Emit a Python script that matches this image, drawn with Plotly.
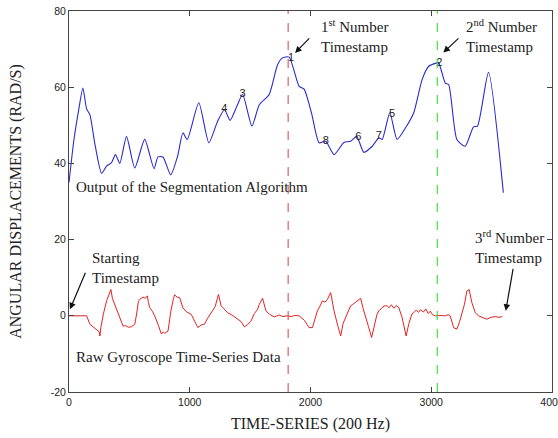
import plotly.graph_objects as go

# ---------------- data ----------------
seg_x = [0, 40, 80, 115, 146, 173, 215, 270, 311, 352,
         385, 421, 476, 545, 627, 704, 737, 778, 842, 900,
         943, 979, 1075, 1158, 1230, 1287, 1334, 1390, 1438, 1515,
         1576, 1658, 1727, 1768, 1823, 1906, 1947, 2010, 2071, 2126,
         2195, 2277, 2332, 2382, 2442, 2511, 2566, 2594, 2657, 2717,
         2790, 2855, 2924, 2979, 3047, 3061, 3116, 3144, 3212, 3281,
         3350, 3383, 3474, 3597]
seg_y = [35, 46, 54, 59.8, 54.3, 52.8, 45, 37.4, 39.3, 40.2,
         42.3, 40, 47.1, 38.8, 46.3, 38.6, 41.7, 41.7, 37.0, 42,
         48.0, 46.3, 55.9, 45.4, 51, 54.1, 51.3, 55, 58.1, 49.8,
         55.4, 58.1, 65.9, 67.7, 67.9, 60.2, 59.5, 53, 45.4, 45.8,
         42.3, 45.5, 45.8, 47.1, 42.9, 44.5, 46.7, 46.3, 53.3, 46.3,
         49.5, 53.3, 62.0, 65.5, 66.4, 66.5, 61.1, 60.7, 46.3, 44.5,
         49.6, 49.8, 63.9, 32.3]

raw_x = [0, 146, 173, 228, 250, 256, 264, 285, 300, 311,
         330, 347, 360, 393, 420, 448, 470, 490, 517, 545,
         560, 575, 586, 600, 613, 630, 649, 658, 668, 690,
         710, 740, 765, 780, 792, 820, 845, 865, 875, 895,
         916, 943, 975, 1012, 1040, 1067, 1095, 1122, 1145, 1163,
         1185, 1210, 1238, 1260, 1285, 1314, 1350, 1397, 1425, 1452,
         1480, 1507, 1535, 1560, 1576, 1603, 1631, 1660, 1700, 1740,
         1770, 1809, 1840, 1870, 1906, 1950, 1988, 2016, 2057, 2080,
         2098, 2120, 2140, 2167, 2195, 2225, 2250, 2270, 2291, 2310,
         2332, 2350, 2370, 2387, 2415, 2435, 2456, 2480, 2506, 2530,
         2550, 2566, 2590, 2610, 2635, 2650, 2670, 2690, 2710, 2731,
         2759, 2792, 2815, 2840, 2855, 2875, 2895, 2910, 2935, 2955,
         2975, 2992, 3010, 3034, 3070, 3116, 3140, 3157, 3185, 3212,
         3235, 3253, 3275, 3295, 3314, 3336, 3365, 3391, 3425, 3460,
         3495, 3529, 3560, 3589]
raw_y = [0, 0, -2.2, -3.5, -4.2, -5.3, -3, 0.5, 2.8, 3.9,
         5.5, 6.9, 4.5, 1.7, -0.5, -2.7, -2.6, -3.0, -2.9, -2.2,
         0.5, 3.8, 4.3, 4.6, 4.9, 4.6, 5.2, 3.5, 2.2, 1.2,
         0, -2.5, -4.8, -4.2, -4.6, -4, 1.5, 4.5, 5.5, 4.9,
         4.8, 2.1, 1.0, 0.4, -1.5, -3.1, -2.4, -2.2, -0.8, 0,
         1.0, 2.4, 5.6, 2.6, 1.8, 0.8, 0.2, -0.9, -1.5, -2.9,
         -2.3, -1.4, 0.6, 1.6, 3, 4.6, 1.3, 0.4, -0.3, 0.2,
         -0.2, 0, -0.2, 0.1, 0, -1.2, -3.1, -3.1, 1.3, 2.6,
         3.9, 3.6, 4.3, 6.1, 1.3, -2.5, -5.3, -2.0, -0.5, 0.8,
         2.6, 3.0, 3.5, 3.9, 4.6, 2.0, 0, -2.8, -5.7, -2.0,
         0.3, 1.3, 1.9, 2.6, 2.6, 2.1, 2.9, 2.0, 2.7, 2.2,
         -0.5, -5.3, -2.0, 0.5, 0.8, 1.5, 0.9, 1.6, 1.0, 1.8,
         0.6, 1.2, 0.3, 0, 0.1, 0, 0.3, 0, -3.1, -3.5,
         -1.5, 0.8, 3.0, 6.5, 6.9, 3.5, 0.8, 0, -0.4, -0.9,
         -0.4, -0.2, -0.4, -0.2]

marker_labels = ["1", "2", "3", "4", "5", "6", "7", "8"]
marker_x = [1840, 3066, 1438, 1287, 2676, 2395, 2566, 2126]
marker_y = [67.6, 66.3, 58.1, 54.1, 52.8, 46.9, 47.0, 45.7]

vline_first = 1815
vline_second = 3050

x_ticks = [0, 1000, 2000, 3000, 4000]
y_ticks = [-20, 0, 20, 40, 60, 80]

SERIF = "Liberation Serif, Times New Roman, serif"
SANS = "Liberation Sans, Arial, sans-serif"

fig = go.Figure()

fig.add_trace(go.Scatter(x=seg_x, y=seg_y, mode="lines",
                         line=dict(color="#2a2ad0", width=1.1, shape="spline", smoothing=0.6),
                         hoverinfo="skip", showlegend=False))
fig.add_trace(go.Scatter(x=raw_x, y=raw_y, mode="lines",
                         line=dict(color="#e52222", width=1.0),
                         hoverinfo="skip", showlegend=False))
fig.add_trace(go.Scatter(x=marker_x, y=marker_y, mode="text", text=marker_labels,
                         textfont=dict(family=SANS, size=11, color="#222"),
                         hoverinfo="skip", showlegend=False))

fig.add_vline(x=vline_first, line=dict(color="#e06060", width=1.2, dash="dash"))
fig.add_vline(x=vline_second, line=dict(color="#44e044", width=1.2, dash="dash"))

txt = dict(family=SERIF, size=15, color="#222")
annos = [
    dict(x=2068, y=73.4, text="1<sup>st</sup> Number<br>Timestamp"),
    dict(x=3272, y=73.4, text="2<sup>nd</sup> Number<br>Timestamp"),
    dict(x=176, y=12.6, text="Starting<br>Timestamp"),
    dict(x=3343, y=18.1, text="3<sup>rd</sup> Number<br>Timestamp"),
    dict(x=42, y=33.8, text="Output of the Segmentation Algorithm"),
    dict(x=42, y=-10.8, text="Raw Gyroscope Time-Series Data"),
]
for a in annos:
    fig.add_annotation(x=a["x"], y=a["y"], text=a["text"], xanchor="left",
                       yanchor="middle", showarrow=False, font=txt, align="left")

arrows = [
    (1872, 69.0, 2002, 73.2),
    (3100, 69.1, 3238, 73.2),
    (8, 1.7, 141, 11.7),
    (3617, 1.3, 3680, 12.7),
]
for hx, hy, tx, ty in arrows:
    fig.add_annotation(x=hx, y=hy, ax=tx, ay=ty, axref="x", ayref="y", xref="x", yref="y",
                       text="", showarrow=True, arrowhead=2, arrowsize=1.1,
                       arrowwidth=1.2, arrowcolor="#111")

axis_common = dict(showline=True, linecolor="#444", linewidth=1, mirror="ticks",
                   ticks="inside", ticklen=5, tickcolor="#444", showgrid=False,
                   zeroline=False, automargin=False,
                   tickfont=dict(family=SANS, size=10.5, color="#222"))

fig.update_xaxes(range=[0, 4000], tickvals=x_ticks, ticktext=[str(v) for v in x_ticks],
                 ticklabeloverflow="allow",
                 title=dict(text="TIME-SERIES (200 Hz)", font=dict(family=SERIF, size=16, color="#222"),
                            standoff=11),
                 **axis_common)
fig.update_yaxes(range=[-20, 80], tickvals=y_ticks, ticktext=[str(v) for v in y_ticks],
                 title=dict(text="ANGULAR DISPLACEMENTS (RAD/S)",
                            font=dict(family=SERIF, size=16, color="#222"), standoff=25),
                 **axis_common)

fig.update_layout(width=558, height=438, margin=dict(l=69, r=6, t=11, b=45.5),
                  paper_bgcolor="white", plot_bgcolor="white")

fig.write_html("out.html")
